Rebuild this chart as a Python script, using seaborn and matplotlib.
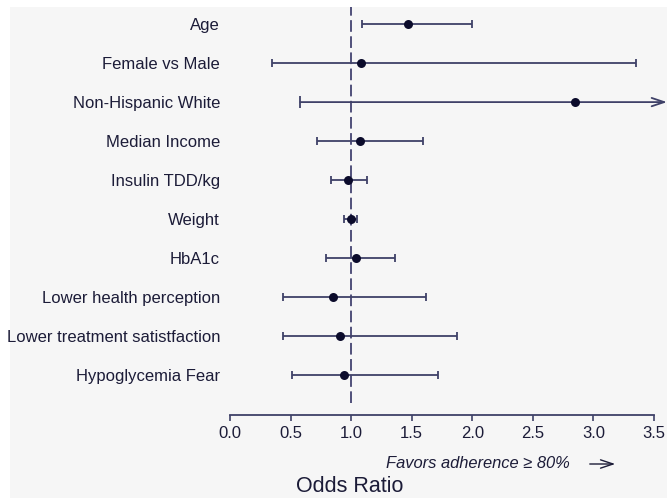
import matplotlib
matplotlib.use("Agg")
import matplotlib.pyplot as plt
from matplotlib.patches import Rectangle, FancyArrowPatch
import seaborn as sns
import pandas as pd

# ---- data ----
labels = ["Age", "Female vs Male", "Non-Hispanic White", "Median Income",
          "Insulin TDD/kg", "Weight", "HbA1c", "Lower health perception",
          "Lower treatment satistfaction", "Hypoglycemia Fear"]
odds = [1.47, 1.08, 2.85, 1.07, 0.97, 1.00, 1.04, 0.85, 0.91, 0.94]
lower = [1.09, 0.35, 0.58, 0.72, 0.83, 0.94, 0.79, 0.44, 0.44, 0.51]
upper = [2.00, 3.35, 4.20, 1.59, 1.13, 1.05, 1.36, 1.62, 1.87, 1.72]
xticks = [0.0, 0.5, 1.0, 1.5, 2.0, 2.5, 3.0, 3.5]

df = pd.DataFrame({"label": labels, "odds": odds, "lower": lower, "upper": upper,
                   "row": range(len(labels))})

W, H = 667, 498
BG = "#f6f6f6"
TXT = "#1c1c38"
LINE = "#3f4168"
DOT = "#0b0b2b"

sns.set_style("white")
plt.rcParams["font.family"] = ["Liberation Sans", "DejaVu Sans"]

fig = plt.figure(figsize=(W / 100, H / 100), dpi=100)
fig.patch.set_facecolor("white")
fig.add_artist(Rectangle((10 / W, 0), 1 - 10 / W, 1 - 7 / H, transform=fig.transFigure,
                         facecolor=BG, edgecolor="none", zorder=-10))

left, right = 230 / W, 654 / W
bottom, top = 1 - 403 / H, 1 - 7 / H
ax = fig.add_axes([left, bottom, right - left, top - bottom])
ax.set_facecolor("none")

xmax = 3.5
arrow_end = (667 - 230) / (654 - 230) * 3.5

ax.axvline(1.0, color="#50507a", lw=1.4, dashes=(6, 2.3), zorder=1)

for _, r in df.iterrows():
    y = r["row"]
    if r["upper"] > xmax:
        ax.annotate("", xy=(arrow_end, y), xytext=(r["lower"], y),
                    xycoords="data", textcoords="data",
                    arrowprops=dict(arrowstyle="->,head_length=0.9,head_width=0.3",
                                    color=LINE, lw=1.3, shrinkA=0, shrinkB=0),
                    annotation_clip=False, zorder=2)
        ax.plot([r["lower"]], [y], marker="|", ms=8, mew=1.3, color=LINE,
                clip_on=False, zorder=2)
    else:
        ax.errorbar(r["odds"], y, xerr=[[r["odds"] - r["lower"]], [r["upper"] - r["odds"]]],
                    fmt="none", ecolor=LINE, elinewidth=1.3, capsize=3.2,
                    capthick=1.3, zorder=2)

sns.scatterplot(data=df, x="odds", y="row", ax=ax, color=DOT, s=42,
                edgecolor=DOT, linewidth=0, zorder=3, clip_on=False)

ax.set_xlim(0, 3.5)
ax.set_ylim(9.72, -0.44)
ax.set_xticks(xticks)
ax.set_xticklabels([f"{t:.1f}" for t in xticks])
ax.set_yticks(range(len(labels)))
ax.set_yticklabels(labels)
ax.tick_params(axis="y", length=0, pad=7.2, labelsize=12, labelcolor=TXT)
ax.tick_params(axis="x", length=4, width=1.2, color=LINE, pad=4,
               labelsize=12, labelcolor=TXT, direction="out", bottom=True)
ax.set_xlabel("")
ax.set_ylabel("")

sns.despine(ax=ax, left=True, top=True, right=True, offset={"bottom": 8.6})
ax.spines["bottom"].set_color(LINE)
ax.spines["bottom"].set_linewidth(1.3)

fig.text(386 / W, 1 - 463 / H, "Favors adherence \u2265 80%", style="italic",
         fontsize=11.9, color=TXT, ha="left", va="center")
fig.add_artist(FancyArrowPatch(
    (587 / W, 1 - 464 / H), (618 / W, 1 - 464 / H), transform=fig.transFigure,
    arrowstyle="->,head_length=0.9,head_width=0.3", color=TXT, lw=1.0,
    mutation_scale=10))

fig.text(350 / W, 1.5 / H, "Odds Ratio", fontsize=15.5, color=TXT,
         ha="center", va="bottom")

fig.savefig("out.png", dpi=100, facecolor=fig.get_facecolor())
